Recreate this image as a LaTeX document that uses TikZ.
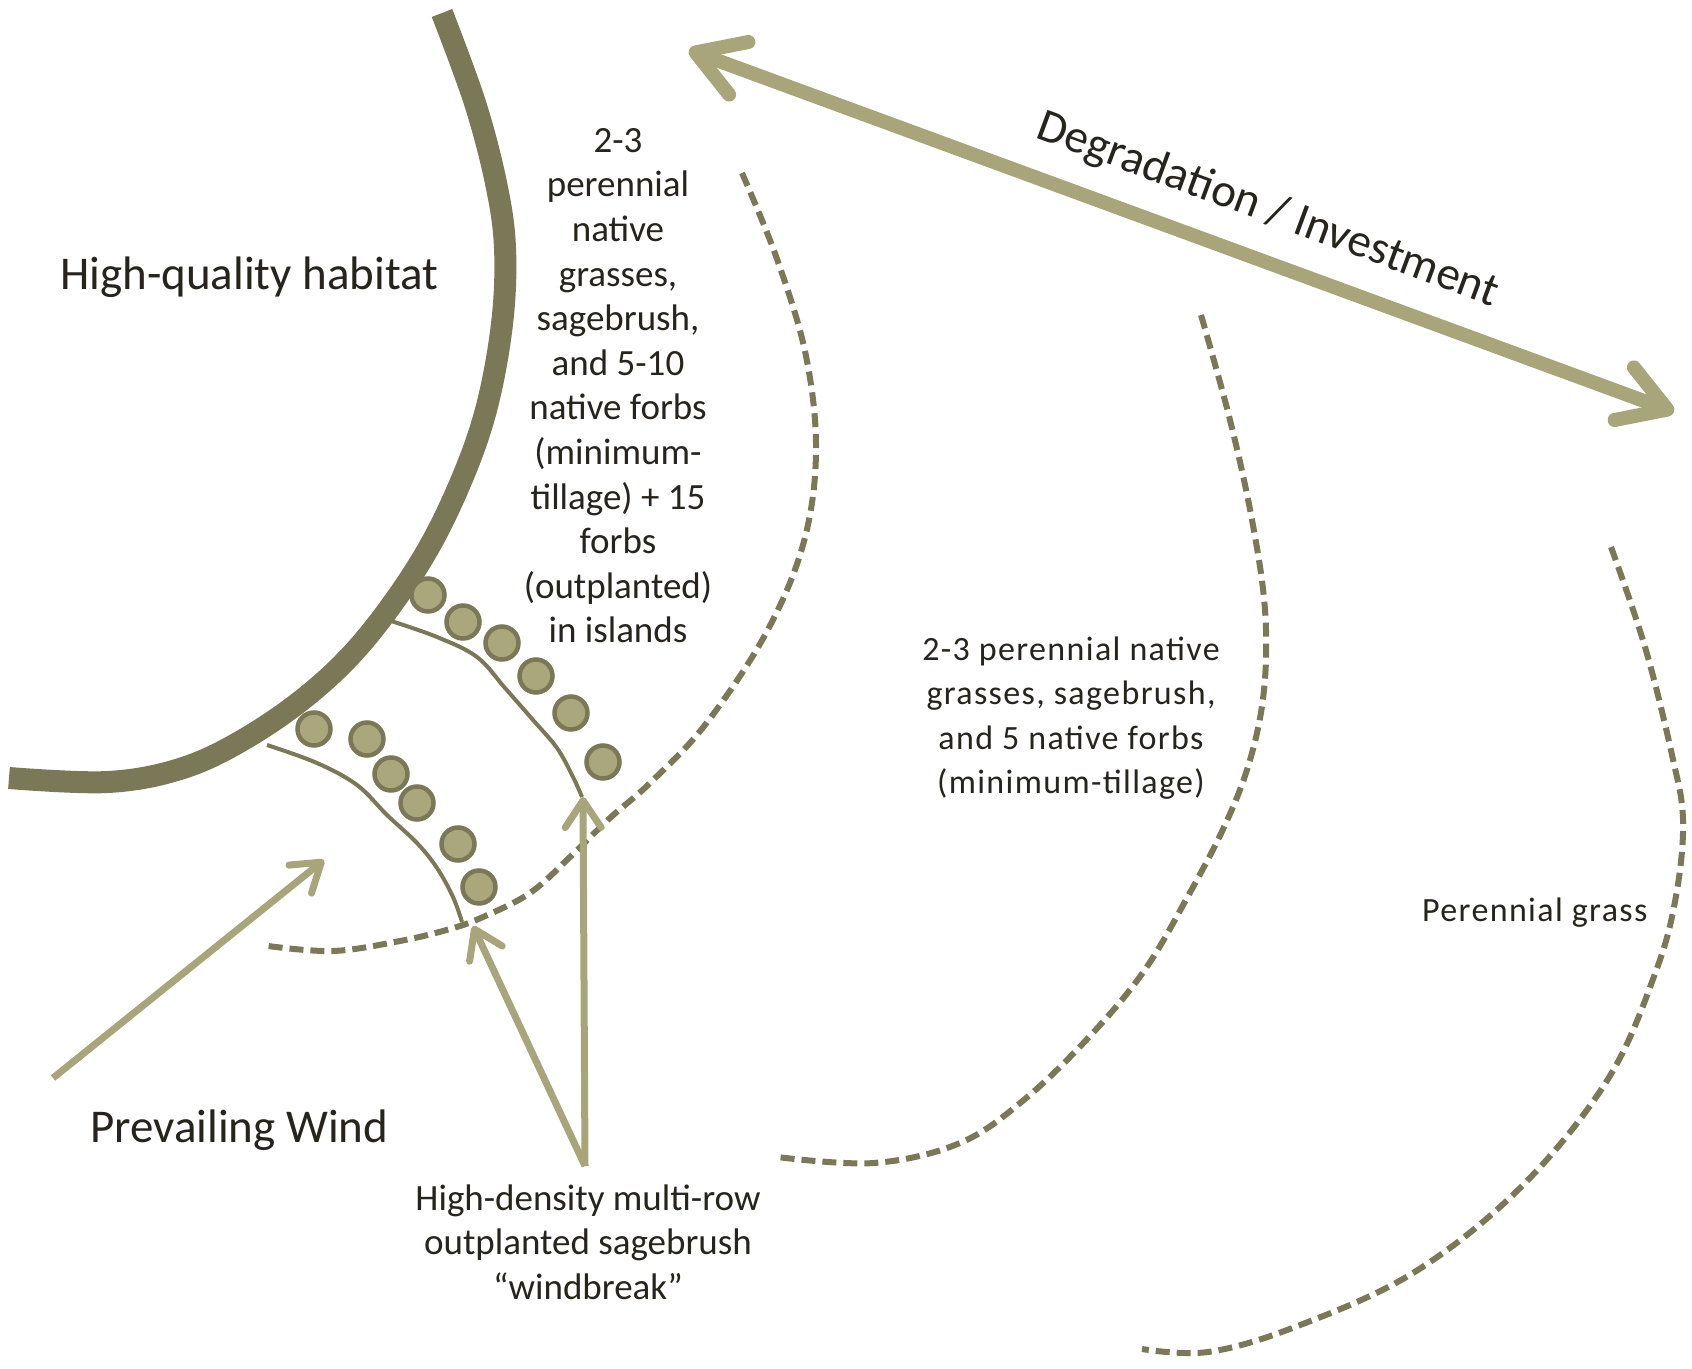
\documentclass[tikz,border=0pt]{standalone}
\usepackage{fontspec}
\setmainfont{Carlito}
\newfontfamily\trackedfont[LetterSpace=4]{Carlito}
\usetikzlibrary{arrows.meta}

\definecolor{olivedark}{RGB}{123,120,88}
\definecolor{olivelight}{RGB}{168,165,122}
\definecolor{shrubfill}{RGB}{170,167,125}
\definecolor{inktext}{RGB}{38,36,28}
\definecolor{bgsoft}{RGB}{236,236,236}
\definecolor{bgedge}{RGB}{206,206,206}

\pgfdeclareradialshading{pagebg}{\pgfpoint{0bp}{0bp}}{%
  color(0bp)=(white); color(29bp)=(white); color(39bp)=(bgsoft);
  color(52bp)=(bgedge); color(75bp)=(bgedge)}

\begin{document}
\begin{tikzpicture}[x=1bp,y=-1bp,
  habitat/.style={draw=olivedark, line width=22bp, line cap=butt},
  zone/.style={draw=olivedark, line width=6bp, dash pattern=on 14bp off 7bp},
  rowline/.style={draw=olivedark, line width=4bp},
  shrub/.style={circle, draw=olivedark, fill=shrubfill, line width=4.5bp,
                minimum size=33bp, inner sep=0pt},
  bigarrow/.style={draw=olivelight, line width=14bp,
    {Straight Barb[length=46bp,width=56bp,round]}-{Straight Barb[length=46bp,width=56bp,round]}},
  thinarrow/.style={draw=olivelight, line width=7bp,
    -{Straight Barb[length=27bp,width=36bp,round]}},
  txt/.style={text=inktext, inner sep=0pt},
  bigtext/.style={txt, font=\fontsize{47bp}{56bp}\selectfont},
  zonetext/.style={txt, align=center, font=\fontsize{37bp}{44.6bp}\selectfont},
  trackedtext/.style={txt, align=center, font=\trackedfont\fontsize{34bp}{44.5bp}\selectfont},
  trackedline/.style={txt, font=\trackedfont\fontsize{34bp}{44.5bp}\selectfont}]

% page background
\useasboundingbox (0,0) rectangle (1692,1369);
\begin{scope}
  \clip (0,0) rectangle (1692,1369);
  \shade[shading=pagebg] (-300,-330) rectangle (2400,1830);
\end{scope}

% edge of the high-quality habitat
\draw[habitat] plot[smooth, tension=0.6] coordinates {
  (442,13) (475,103) (496,183) (505,248) (502,324) (486,410) (459,486)
  (421,561) (367,637) (313,691) (248,737) (183,768) (108,782) (9,778)};

% restoration zones
\draw[zone] plot[smooth, tension=0.6] coordinates {
  (742,173) (777,259) (806,356) (816,453) (803,545) (765,635) (705,725)
  (650,783) (610,818) (570,857) (530,893) (483,917) (450,929) (400,941)
  (333,951) (268,946)};
\draw[zone] plot[smooth, tension=0.6] coordinates {
  (1201,315) (1230,420) (1252,520) (1265,610) (1264,690) (1250,760)
  (1225,825) (1187,898) (1144,971) (1090,1036) (1025,1099) (960,1143)
  (874,1163) (777,1157)};
\draw[zone] plot[smooth, tension=0.6] coordinates {
  (1611,547) (1645,647) (1672,755) (1683,820) (1676,896) (1656,971)
  (1608,1079) (1521,1187) (1413,1273) (1295,1327) (1208,1352) (1142,1349)};

% windbreak rows
\draw[rowline] plot[smooth, tension=0.6] coordinates {
  (388,620) (437,637) (477,657) (505,688) (533,720) (557,748) (573,777) (582,797)};
\draw[rowline] plot[smooth, tension=0.6] coordinates {
  (267,745) (317,763) (357,785) (387,815) (417,843) (437,868) (453,897) (462,922)};

\foreach \name/\pos in {a1/{(428,595)}, a2/{(463,622)}, a3/{(502,643)},
                        a4/{(536,676)}, a5/{(571,713)}, a6/{(603,762)},
                        b1/{(314,729)}, b2/{(367,739)}, b3/{(391,774)},
                        b4/{(417,803)}, b5/{(458,844)}, b6/{(479,887)}}
  \node[shrub] (shrub-\name) at \pos {};

% degradation / investment axis
\coordinate (trendL) at (689,50);
\coordinate (trendR) at (1674,412);
\draw[bigarrow] (trendL) -- (trendR);
\node[bigtext, rotate=-20.3, anchor=base west] (trend) at (1034,137)
  {Degradation / Investment};

% texts
\node[bigtext, anchor=base west] (habitat) at (60,290) {High-quality habitat};
\node[bigtext, anchor=base west] (windlabel) at (90,1142) {Prevailing Wind};

\node[zonetext, anchor=north] (zoneA) at (618,122)
  {\rule{0pt}{30bp}2-3\\perennial\\native\\grasses,\\sagebrush,\\and 5-10\\native forbs\\(minimum-\\tillage) + 15\\forbs\\(outplanted)\\in islands};

\node[trackedtext, anchor=north] (zoneB) at (1071,632)
  {\rule{0pt}{28bp}2-3 perennial native\\grasses, sagebrush,\\and 5 native forbs\\(minimum-tillage)};

\node[trackedline, anchor=base west] (zoneC) at (1422,921) {Perennial grass};

\node[zonetext, anchor=north] (wblabel) at (588,1180)
  {\rule{0pt}{30bp}High-density multi-row\\outplanted sagebrush\\“windbreak”};

% prevailing wind
\coordinate (windtail) at (53,1078);
\coordinate (windhead) at (324,860);
\draw[thinarrow] (windtail) -- (windhead);

% pointers to the windbreak rows
\coordinate (wbroot) at (585,1166);
\coordinate (wbtipA) at (583,797);
\coordinate (wbtipB) at (473,926);
\draw[thinarrow] (wbroot) -- (wbtipA);
\draw[thinarrow] (wbroot) -- (wbtipB);

\end{tikzpicture}
\end{document}
